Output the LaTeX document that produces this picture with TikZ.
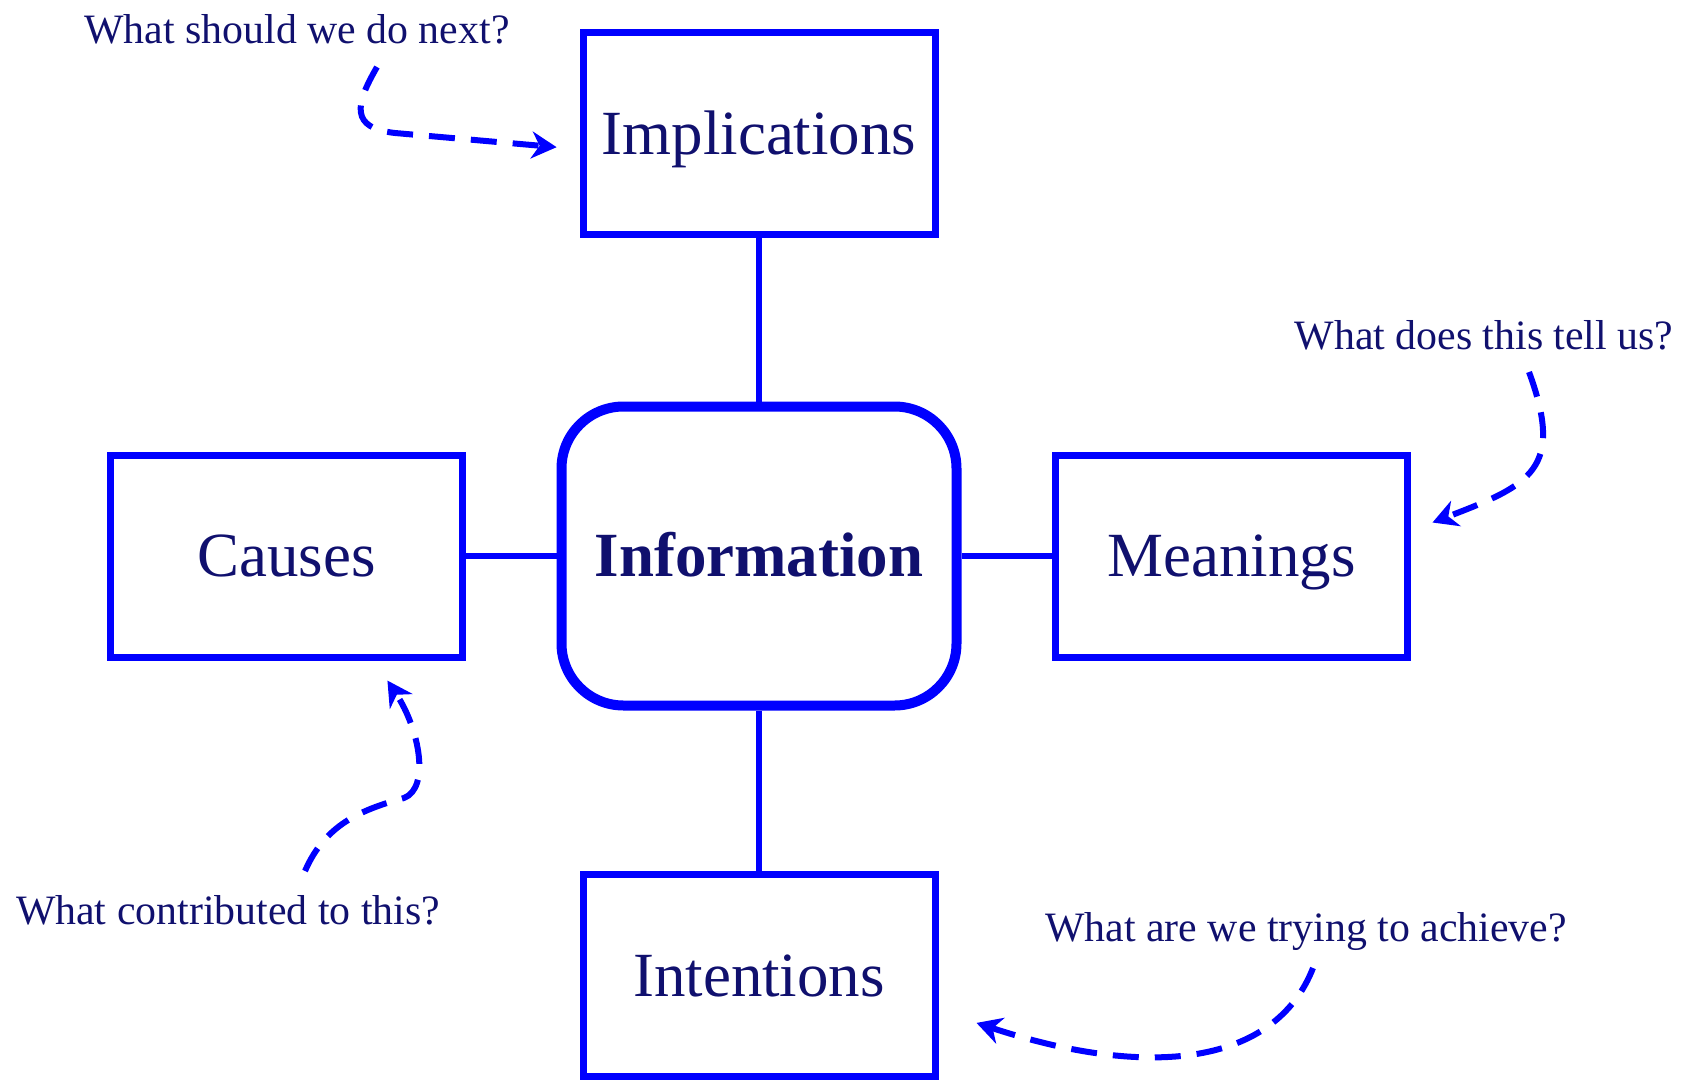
\documentclass[tikz,border=0pt]{standalone}
\usepackage{fontspec}
\setmainfont{Liberation Serif}
\usetikzlibrary{arrows.meta}
\definecolor{ink}{RGB}{16,16,110}
\definecolor{lineblue}{RGB}{0,0,255}

\begin{document}
\begin{tikzpicture}[
    thinkbox/.style={draw=lineblue, line width=0.07cm, minimum width=3.52cm, minimum height=2.02cm,
      inner sep=0pt, text=ink, font=\fontsize{17.9}{20}\selectfont, text height=11.8pt, text depth=0pt},
    infobox/.style={thinkbox, line width=0.1cm, rounded corners=0.62cm, minimum width=3.95cm,
      minimum height=2.99cm, font=\fontsize{17.9}{20}\selectfont\bfseries},
    joinline/.style={draw=lineblue, line width=0.065cm},
    question/.style={text=ink, font=\fontsize{11.9}{14}\selectfont, anchor=base, inner sep=0pt},
    qarrow/.style={draw=lineblue, line width=0.06cm, dash pattern=on 0.26cm off 0.16cm,
      -{Stealth[length=0.25cm, width=0.27cm, inset=0.08cm]}}
  ]
    \useasboundingbox (0,0) rectangle (16.91,-10.82);

    % the centre and its four boxes
    \node[infobox]  (info)   at (7.59, -5.56) {Information};
    \node[thinkbox] (impl)   at (7.59, -1.335) {Implications};
    \node[thinkbox] (causes) at (2.865,-5.56) {Causes};
    \node[thinkbox] (mean)   at (12.315,-5.56) {Meanings};
    \node[thinkbox] (intent) at (7.59, -9.755) {Intentions};

    \draw[joinline] (impl.south)  -- (info.north);
    \draw[joinline] (info.south)  -- (intent.north);
    \draw[joinline] (causes.east) -- (info.west);
    \draw[joinline] (info.east)   -- (mean.west);

    % questions
    \node[question] (qnext)  at (2.97, -0.43) {What should we do next?};
    \node[question] (qtell)  at (14.84,-3.49) {What does this tell us?};
    \node[question] (qcause) at (2.28, -9.24) {What contributed to this?};
    \node[question] (qaim)   at (13.06,-9.41) {What are we trying to achieve?};

    \draw[qarrow, shorten >=0.23cm] ([shift={(0.8,-0.24)}]qnext.base)
        .. controls (3.55,-1.05) and (3.5,-1.28) .. (3.95,-1.33) -- (impl.185);
    \draw[qarrow, shorten >=0.23cm] ([shift={(0.45,-0.23)}]qtell.base)
        .. controls (15.65,-4.7) and (15.3,-4.85) .. (mean.8);
    \draw[qarrow, shorten >=0.24cm] ([shift={(0.77,0.53)}]qcause.base)
        .. controls (3.25,-8.25) and (3.6,-8.1) .. (4.04,-7.98)
        .. controls (4.3,-7.88) and (4.2,-7.3) .. (causes.310);
    \draw[qarrow, shorten >=0.4cm] ([shift={(0.07,-0.27)}]qaim.base)
        .. controls (12.75,-10.65) and (11.5,-10.8) .. (intent.349);
  \end{tikzpicture}
\end{document}
